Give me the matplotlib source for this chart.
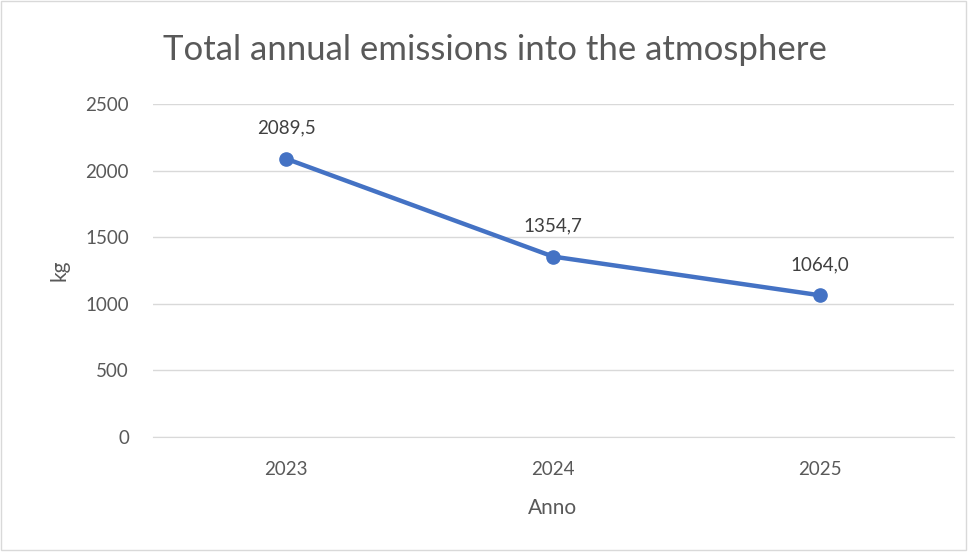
import matplotlib.pyplot as plt
from matplotlib.patches import Rectangle

years = ["2023", "2024", "2025"]
emissions = [2089.5, 1354.7, 1064.0]
labels = ["2089,5", "1354,7", "1064,0"]
yticks = [0, 500, 1000, 1500, 2000, 2500]

plt.rcParams['font.family'] = ['Lato', 'DejaVu Sans']
grey = '#595959'

fig = plt.figure(figsize=(9.72, 5.54), dpi=100)
ax = fig.add_axes([152.5/972, 1-437/554, 801/972, 333/554])

x = list(range(len(years)))
ax.plot(x, emissions, color='#4472C4', lw=3.2, marker='o', ms=9.5, zorder=3)
for xi, v, lab in zip(x, emissions, labels):
    ax.annotate(lab, (xi, v), xytext=(0, 16), textcoords='offset points',
                ha='center', va='bottom', fontsize=13.5, color='#404040')

ax.set_xlim(-0.5, 2.5)
ax.set_ylim(0, 2500)
ax.set_xticks(x)
ax.set_xticklabels(years)
ax.set_yticks(yticks)
ax.grid(axis='y', color='#D9D9D9', lw=1)
ax.set_axisbelow(True)
for s in ['top', 'right', 'left']:
    ax.spines[s].set_visible(False)
ax.spines['bottom'].set_color('#D9D9D9')
ax.tick_params(length=0, labelsize=13.5, labelcolor=grey, pad=17)
ax.tick_params(axis='x', pad=17)
ax.set_xlabel("Anno", fontsize=15, color=grey, labelpad=15)
ax.set_ylabel("kg", fontsize=15, color=grey, labelpad=11)

fig.text(495/972, 1-50/554, "Total annual emissions into the atmosphere",
         ha='center', va='center', fontsize=25, color=grey)
fig.patches.append(Rectangle((0.5/972, 1-550/554), 965/972, 549/554,
                             transform=fig.transFigure, fill=False,
                             edgecolor='#D9D9D9', lw=1))

fig.savefig('out.png', dpi=100)
